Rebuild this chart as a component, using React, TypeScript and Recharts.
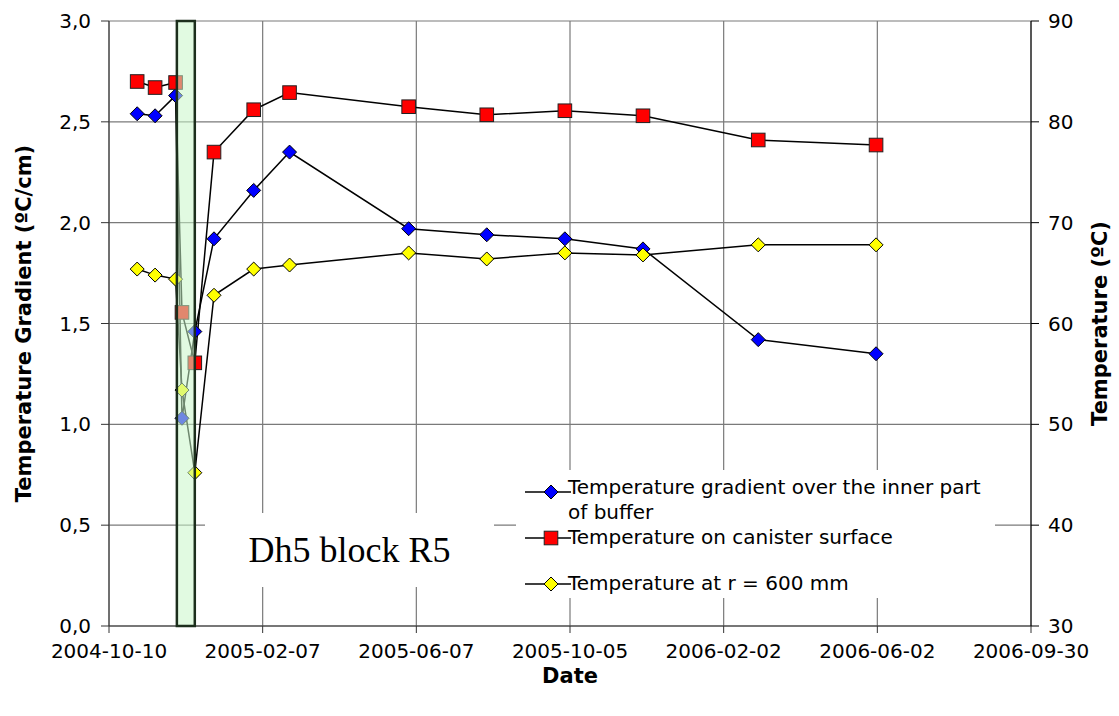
import React from 'react';
import {
  LineChart, Line, XAxis, YAxis, CartesianGrid, ReferenceArea, Legend,
} from 'recharts';

// measurement dates and readings
const dates = [
  '2004-11-01', '2004-11-15', '2004-12-01', '2004-12-06', '2004-12-16', '2004-12-31', '2005-01-31',
  '2005-02-28', '2005-06-01', '2005-08-01', '2005-10-01', '2005-12-01', '2006-03-01', '2006-06-01',
];
const gradient = [2.54, 2.53, 2.63, 1.03, 1.46, 1.92, 2.16, 2.35, 1.97, 1.94, 1.92, 1.87, 1.42, 1.35];
const canisterTemp = [84.0, 83.4, 83.9, 61.1, 56.1, 77.0, 81.2, 82.9, 81.5, 80.7, 81.1, 80.6, 78.2, 77.7];
const tempR600 = [1.77, 1.74, 1.72, 1.17, 0.76, 1.64, 1.77, 1.79, 1.85, 1.82, 1.85, 1.84, 1.89, 1.89];

const xTickDates = ['2004-10-10', '2005-02-07', '2005-06-07', '2005-10-05', '2006-02-02', '2006-06-02', '2006-09-30'];
const leftTicks = [0, 0.5, 1, 1.5, 2, 2.5, 3];
const rightTicks = [30, 40, 50, 60, 70, 80, 90];

const bandStart = '2004-12-02';
const bandEnd = '2004-12-16';
const bandLabel = 'Dh5 block R5';

const seriesNames = {
  gradient: 'Temperature gradient over the inner part of buffer',
  canister: 'Temperature on canister surface',
  r600: 'Temperature at r = 600 mm',
};

const DAY = 86400000;
const origin = Date.UTC(2004, 9, 10);
const toDay = (s: string) => {
  const [y, m, d] = s.split('-').map(Number);
  return Math.round((Date.UTC(y, m - 1, d) - origin) / DAY);
};
const fromDay = (n: number) => new Date(origin + n * DAY).toISOString().slice(0, 10);

const data = dates.map((d, i) => ({
  day: toDay(d),
  gradient: gradient[i],
  canister: canisterTemp[i],
  r600: tempR600[i],
}));

const FONT = '"DejaVu Sans", "Liberation Sans", Arial, sans-serif';

const Diamond = ({ cx, cy, fill, r = 7 }: any) => {
  if (cx == null || cy == null) return null;
  return (
    <path
      d={`M${cx},${cy - r} L${cx + r},${cy} L${cx},${cy + r} L${cx - r},${cy} Z`}
      fill={fill}
      stroke="#000"
      strokeWidth={1}
    />
  );
};

const Square = ({ cx, cy, fill, s = 6.8 }: any) => {
  if (cx == null || cy == null) return null;
  return <rect x={cx - s} y={cy - s} width={2 * s} height={2 * s} fill={fill} stroke="#222" strokeWidth={1} />;
};

const markerFor = (key: string, cx: number, cy: number) => {
  if (key === 'canister') return <Square cx={cx} cy={cy} fill="#ff0000" />;
  if (key === 'gradient') return <Diamond cx={cx} cy={cy} fill="#0000ff" />;
  return <Diamond cx={cx} cy={cy} fill="#ffff00" />;
};

const legendRows = [
  { key: 'gradient', top: 0, markerY: 17 },
  { key: 'canister', top: 50, markerY: 13 },
  { key: 'r600', top: 96, markerY: 13 },
];

const renderLegend = () => (
  <div style={{ position: 'relative', width: 479, height: 128, background: '#fff', fontFamily: FONT, fontSize: 20, color: '#000' }}>
    {legendRows.map((row) => (
      <div key={row.key} style={{ position: 'absolute', left: 0, top: row.top + 5, width: 479 }}>
        <svg width={48} height={26} style={{ position: 'absolute', left: 8, top: row.markerY - 13 }}>
          <line x1={1} y1={13} x2={47} y2={13} stroke="#000" strokeWidth={1.5} />
          {markerFor(row.key, 27, 13)}
        </svg>
        <div style={{ position: 'absolute', left: 52, top: 0, width: 425, lineHeight: '25px' }}>
          {seriesNames[row.key as keyof typeof seriesNames]}
        </div>
      </div>
    ))}
  </div>
);

const XTitle = ({ viewBox }: any) => (
  <text x={viewBox.x + viewBox.width / 2} y={683} textAnchor="middle" fontFamily={FONT} fontWeight="bold" fontSize={21} fill="#000">
    Date
  </text>
);

const YTitle = ({ viewBox, text, posX }: any) => {
  const cy = viewBox.y + viewBox.height / 2;
  return (
    <text
      x={posX}
      y={cy}
      transform={`rotate(-90, ${posX}, ${cy})`}
      textAnchor="middle"
      dominantBaseline="central"
      fontFamily={FONT}
      fontWeight="bold"
      fontSize={21}
      fill="#000"
    >
      {text}
    </text>
  );
};

const tickStyle = { fontFamily: FONT, fontSize: 20, fill: '#000' };

export default function App() {
  return (
    <div style={{ position: 'absolute', left: 0, top: 0, width: 1119, height: 716, background: '#fff' }}>
      <LineChart width={1119} height={716} data={data} margin={{ top: 21, right: 0, bottom: 0, left: 0 }}>
        <CartesianGrid yAxisId="left" stroke="#7a7a7a" strokeWidth={1.2} />
        <XAxis
          dataKey="day"
          type="number"
          domain={[0, 720]}
          ticks={xTickDates.map(toDay)}
          tickFormatter={fromDay}
          height={90}
          tickSize={7}
          tickMargin={11}
          tick={tickStyle}
          stroke="#333"
          label={<XTitle />}
        />
        <YAxis
          yAxisId="left"
          domain={[0, 3]}
          ticks={leftTicks}
          tickFormatter={(v: number) => v.toFixed(1).replace('.', ',')}
          width={109}
          tickSize={8}
          tickMargin={10}
          tick={tickStyle}
          stroke="#333"
          label={<YTitle text="Temperature Gradient (ºC/cm)" posX={24} />}
        />
        <YAxis
          yAxisId="right"
          orientation="right"
          domain={[30, 90]}
          ticks={rightTicks}
          width={88}
          tickSize={8}
          tickMargin={9}
          tick={tickStyle}
          stroke="#000"
          label={<YTitle text="Temperature (ºC)" posX={1100} />}
        />
        <Line
          yAxisId="left"
          dataKey="gradient"
          name={seriesNames.gradient}
          stroke="#000"
          strokeWidth={1.5}
          dot={(p: any) => <Diamond key={`g${p.index}`} cx={p.cx} cy={p.cy} fill="#0000ff" />}
          isAnimationActive={false}
        />
        <Line
          yAxisId="right"
          dataKey="canister"
          name={seriesNames.canister}
          stroke="#000"
          strokeWidth={1.5}
          dot={(p: any) => <Square key={`c${p.index}`} cx={p.cx} cy={p.cy} fill="#ff0000" />}
          isAnimationActive={false}
        />
        <Line
          yAxisId="left"
          dataKey="r600"
          name={seriesNames.r600}
          stroke="#000"
          strokeWidth={1.5}
          dot={(p: any) => <Diamond key={`y${p.index}`} cx={p.cx} cy={p.cy} fill="#ffff00" />}
          isAnimationActive={false}
        />
        <ReferenceArea
          yAxisId="left"
          x1={toDay(bandStart)}
          x2={toDay(bandEnd)}
          y1={0}
          y2={3}
          fill="#c8f5c8"
          fillOpacity={0.55}
          stroke="#1c2e1c"
          strokeWidth={2.5}
          zIndex={1000}
        />
        <Legend
          layout="vertical"
          align="center"
          verticalAlign="middle"
          content={renderLegend}
          wrapperStyle={{ position: 'absolute', left: 516, top: 470, width: 479, height: 128 }}
        />
      </LineChart>
      <div
        style={{
          position: 'absolute', left: 205, top: 513, width: 289, height: 74, background: '#fff',
          fontFamily: '"Liberation Serif", "Times New Roman", serif', fontSize: 36, lineHeight: '74px',
          textAlign: 'center', color: '#000',
        }}
      >
        {bandLabel}
      </div>
    </div>
  );
}
